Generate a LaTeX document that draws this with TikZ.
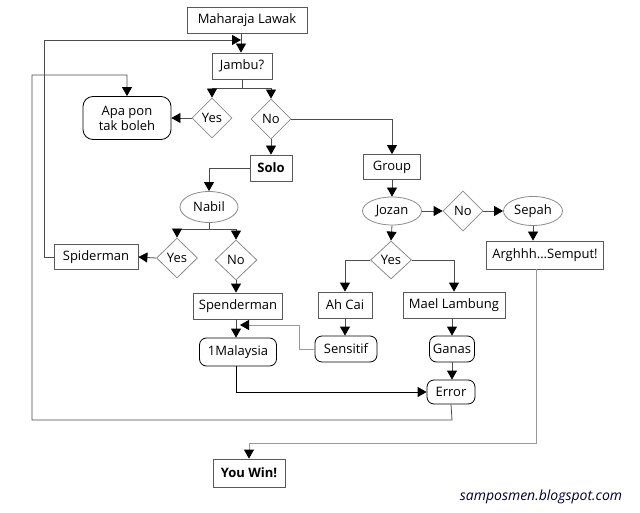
\documentclass[tikz,border=0pt]{standalone}
\usepackage{fontspec}
\setmainfont{Open Sans}
\usetikzlibrary{shapes.geometric,arrows.meta}
\begin{document}
\begin{tikzpicture}[x=1pt,y=-1pt,
  every node/.style={font=\fontsize{13}{15}\selectfont, inner sep=0pt, text=black},
  box/.style={draw=black!65, rectangle, line width=0.8pt},
  rbox/.style={draw=black, rectangle, rounded corners=7pt, line width=0.8pt},
  dia/.style={draw=black!45, diamond, line width=0.8pt},
  ell/.style={draw=black!45, ellipse, line width=0.8pt},
  ln/.style={draw=black!70, line width=0.8pt},
  lln/.style={draw=black!40, line width=0.8pt},
  tip/.tip={Triangle[width=10pt,length=9pt,color=black]},
  arr/.style={ln, -tip},
  larr/.style={lln, -tip},
]
\useasboundingbox[fill=white] (0,0) rectangle (640,513);
% nodes
\node[box, minimum width=120, minimum height=26] (mah) at (247,20) {Maharaja Lawak};
\node[box, minimum width=60, minimum height=26] (jam) at (242,66) {Jambu?};
\node[rbox, minimum width=88, minimum height=43, align=center, rounded corners=10pt] (apa) at (127,118) {Apa pon\\tak boleh};
\node[dia, minimum width=40, minimum height=40] (y1) at (212,118) {Yes};
\node[dia, minimum width=40, minimum height=40] (n1) at (271,119) {No};
\node[box, minimum width=42, minimum height=26, font=\fontsize{13}{15}\selectfont\bfseries] (solo) at (271,168) {Solo};
\node[box, minimum width=57, minimum height=25] (grp) at (392,167) {Group};
\node[ell, minimum width=58, minimum height=31] (nab) at (209,207) {Nabil};
\node[dia, minimum width=41, minimum height=40] (y2) at (177,258) {Yes};
\node[dia, minimum width=42, minimum height=40] (n2) at (236,260) {No};
\node[box, minimum width=84, minimum height=25] (spi) at (96,257) {Spiderman};
\node[box, minimum width=89, minimum height=26] (spe) at (238,306) {Spenderman};
\node[rbox, minimum width=77, minimum height=28] (mal) at (238,352) {1Malaysia};
\node[ell, minimum width=59, minimum height=28] (joz) at (392,211) {Jozan};
\node[dia, minimum width=40, minimum height=40] (n3) at (463,211) {No};
\node[ell, minimum width=59, minimum height=29] (sep) at (533,211) {Sepah};
\node[box, minimum width=117, minimum height=28] (arg) at (545,255) {Arghhh...Semput!};
\node[dia, minimum width=41, minimum height=38] (y3) at (391,260) {Yes};
\node[box, minimum width=54, minimum height=26] (ahc) at (345,305) {Ah Cai};
\node[box, minimum width=102, minimum height=26] (mae) at (454,305) {Mael Lambung};
\node[rbox, minimum width=62, minimum height=26] (sen) at (346,349) {Sensitif};
\node[rbox, minimum width=45, minimum height=26] (gan) at (452,349) {Ganas};
\node[rbox, minimum width=48, minimum height=24] (err) at (451,392) {Error};
\node[box, minimum width=72, minimum height=28, font=\fontsize{13}{15}\selectfont\bfseries] (win) at (249,473) {You Win!};
\node[font=\fontsize{14}{16}\selectfont\itshape, text=black!80!blue] (wm) at (541,497) {samposmen.blogspot.com};
% helper coordinates
\coordinate (mj) at (241,40);
\coordinate (c1) at (44,40);
\coordinate (js) at (242,88);
\coordinate (ns) at (209,229);
\coordinate (sm) at (240,325);
\coordinate (sx) at (299,325);
\coordinate (e1) at (452,420);
\coordinate (e2) at (32,420);
\coordinate (e3) at (32,75);
\coordinate (e4) at (127,75);
\coordinate (a1) at (536,269);
\coordinate (a2) at (536,443);
% connectors
\draw[arr] (mah.south -| mj) -- (jam.north -| mj);
\draw[arr] (spi.west) -| (c1) -- (mj);
\draw[ln] (jam.south) -- (js);
\draw[arr] (js) -| (y1.north);
\draw[arr] (js) -| (n1.north);
\draw[arr] (y1.west) -- (apa.east);
\draw[arr] (n1.south) -- (solo.north);
\draw[arr] (n1.east) -| (grp.north);
\draw[arr] (solo.west) -| (nab.north);
\draw[ln] (nab.south) -- (ns);
\draw[arr] (ns) -| (y2.north);
\draw[arr] (ns) -| (n2.north);
\draw[arr] (y2.west) -- (spi.east);
\draw[arr] (n2.south) -- (spe.north -| n2.south);
\draw[arr] (spe.south -| n2.south) -- (mal.north -| n2.south);
\draw[larr] (sen.west) -| (sx) -- (sm);
\draw[arr, draw=black] (mal.south -| n2.south) |- (err.west);
\draw[arr] (err.south) -- (e1) -- (e2) -- (e3) -- (e4) -- (apa.north);
\draw[arr] (grp.south) -- (joz.north);
\draw[arr] (joz.east) -- (n3.west);
\draw[arr] (n3.east) -- (sep.west);
\draw[arr] (sep.south) -- (arg.north -| sep.south);
\draw[arr] (joz.south) -- (y3.north);
\draw[arr] (y3.west) -| (ahc.north);
\draw[arr] (y3.east) -| (mae.north);
\draw[arr] (ahc.south) -- (sen.north -| ahc.south);
\draw[arr] (mae.south -| gan.north) -- (gan.north);
\draw[arr] (gan.south) -- (err.north -| gan.south);
\draw[larr] (a1) -- (a2) -| (win.north);
\end{tikzpicture}
\end{document}
